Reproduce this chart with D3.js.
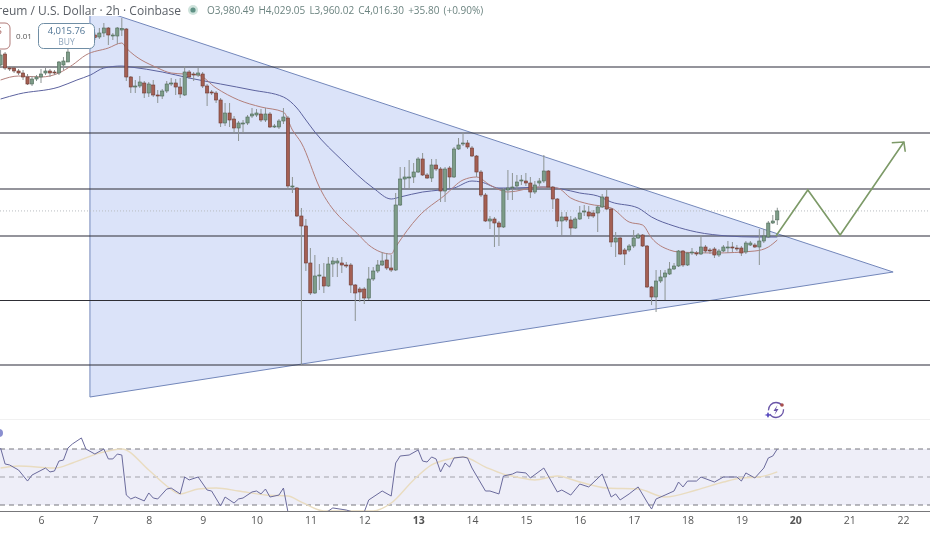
<!DOCTYPE html>
<html>
<head>
<meta charset="utf-8">
<script src="https://cdn.jsdelivr.net/npm/d3@7"></script>
<style>
    html, body { margin: 0; padding: 0; background: #fff; overflow: hidden; }
    svg { display: block; font-family: 'Open Sans', 'Noto Sans', sans-serif; }
</style>
</head>
<body>
<svg></svg>
<script>
const size = {w: 930, h: 533};
const svg = d3.select('svg');
svg.attr('width', size.w).attr('height', size.h);

// bar numbers count 2h candles from the start of the 6th (12 a day)
const firstBar = -9;

// open, high, low, close for every candle
const ohlc = [
    [4600,4660,4588,4640],[4644,4652,4580,4588],[4588,4596,4576,4584],[4588,4596,4568,4576],[4576,4584,4560,4568],
    [4568,4580,4540,4552],[4552,4564,4520,4524],[4524,4556,4516,4544],[4544,4560,4536,4552],[4552,4584,4528,4564],
    [4568,4588,4560,4576],[4576,4584,4552,4568],[4572,4580,4560,4568],[4568,4616,4560,4612],[4600,4632,4580,4616],
    [4612,4668,4612,4652],[4676,4710,4672,4700],[4700,4730,4690,4720],[4720,4750,4705,4740],[4740,4760,4720,4750],
    [4750,4755,4700,4720],[4720,4730,4700,4710],[4712,4748,4704,4728],[4728,4768,4712,4748],[4748,4752,4680,4720],
    [4716,4728,4700,4720],[4716,4752,4684,4748],[4740,4788,4716,4746],[4744,4748,4536,4552],[4552,4556,4488,4512],
    [4512,4540,4488,4516],[4516,4556,4508,4532],[4528,4536,4468,4488],[4488,4532,4472,4524],[4520,4540,4472,4480],
    [4480,4500,4448,4476],[4476,4504,4464,4496],[4496,4536,4488,4524],[4524,4548,4516,4528],[4528,4544,4480,4512],
    [4512,4548,4468,4484],[4480,4596,4476,4572],[4572,4580,4544,4552],[4564,4572,4536,4560],[4560,4588,4552,4568],
    [4564,4572,4508,4516],[4516,4524,4436,4488],[4492,4500,4480,4488],[4488,4496,4448,4460],[4460,4468,4352,4368],
    [4368,4448,4356,4408],[4408,4448,4352,4380],[4384,4396,4328,4348],[4348,4376,4296,4368],[4366,4380,4328,4368],
    [4368,4400,4360,4392],[4396,4428,4388,4404],[4400,4424,4392,4408],[4404,4424,4372,4380],[4380,4428,4372,4404],
    [4404,4412,4348,4352],[4352,4364,4348,4356],[4352,4384,4344,4376],[4376,4428,4364,4392],[4388,4396,4100,4116],
    [4112,4152,4088,4116],[4108,4112,3992,3996],[3996,4028,3400,3956],[3956,3984,3776,3808],[3808,3868,3680,3688],
    [3688,3840,3684,3756],[3756,3804,3700,3760],[3752,3808,3688,3716],[3716,3832,3712,3804],[3804,3832,3752,3816],
    [3808,3828,3752,3816],[3808,3832,3768,3800],[3800,3812,3788,3798],[3800,3808,3688,3720],[3720,3724,3576,3688],
    [3704,3712,3652,3692],[3704,3712,3644,3668],[3668,3792,3660,3744],[3744,3792,3736,3776],[3776,3820,3768,3800],
    [3800,3852,3796,3816],[3820,3848,3780,3788],[3788,3840,3772,3780],[3780,4088,3776,4040],[4040,4192,4036,4144],
    [4144,4192,4108,4152],[4148,4220,4104,4152],[4152,4208,4128,4172],[4172,4232,4168,4224],[4224,4248,4156,4160],
    [4160,4168,4144,4148],[4148,4224,4132,4200],[4200,4224,4176,4184],[4184,4192,4052,4096],[4096,4192,4052,4184],
    [4188,4196,4108,4152],[4152,4272,4148,4264],[4264,4308,4260,4280],[4284,4332,4276,4288],[4288,4300,4264,4272],
    [4268,4276,4232,4236],[4236,4240,4152,4172],[4172,4180,4072,4080],[4080,4088,3972,3976],[3976,3996,3944,3984],
    [3984,3992,3872,3968],[3968,3976,3876,3952],[3952,4108,3948,4100],[4100,4180,4060,4108],[4108,4168,4060,4112],
    [4116,4160,4100,4132],[4136,4160,4120,4140],[4136,4168,4116,4128],[4128,4152,4068,4092],[4092,4136,4084,4120],
    [4128,4148,4116,4136],[4136,4240,4128,4176],[4176,4180,4104,4112],[4112,4116,4024,4064],[4064,4068,3952,3976],
    [3976,4012,3920,3992],[3992,4012,3972,3980],[3980,3996,3920,3948],[3948,3992,3944,3984],[3984,4036,3980,4008],
    [4012,4040,3996,4016],[4012,4036,3984,3996],[4008,4020,3988,3996],[4008,4040,3932,4032],[4032,4084,4028,4072],
    [4072,4100,4020,4024],[4024,4028,3872,3892],[3892,3932,3832,3908],[3908,3912,3840,3844],[3860,3868,3800,3844],
    [3860,3884,3852,3876],[3876,3940,3868,3908],[3908,3928,3904,3920],[3920,3924,3872,3876],[3876,3880,3708,3712],
    [3712,3716,3640,3672],[3672,3780,3612,3736],[3736,3780,3728,3752],[3752,3780,3660,3768],[3764,3812,3760,3784],
    [3784,3808,3780,3796],[3796,3860,3792,3856],[3856,3860,3792,3800],[3800,3852,3796,3848],[3848,3868,3840,3852],
    [3848,3856,3836,3844],[3844,3920,3840,3872],[3872,3880,3848,3856],[3860,3868,3844,3856],[3864,3872,3828,3840],
    [3840,3864,3832,3856],[3856,3880,3852,3872],[3868,3896,3848,3872],[3872,3892,3852,3868],[3868,3880,3856,3864],
    [3868,3876,3836,3848],[3852,3896,3844,3888],[3880,3896,3876,3888],[3880,3888,3868,3872],[3872,3944,3800,3896],
    [3896,3944,3888,3916],[3912,3976,3908,3968],[3968,4000,3964,3976],[3980.49,4029.05,3960.02,4016.30]
];

const levels = [4592, 4328, 4104, 3916, 3658, 3400];
const lastPrice = 4016.30;

// slow (blue) and fast (red) averages as [bar, price]
const slowMa = [[-9,4464],[-5,4484],[4,4512],[8,4540],[11,4560],[14,4588],[18,4596],[20,4592],[27,4572],[33,4548],
    [40,4524],[47,4500],[54,4472],[57,4428],[59,4380],[61,4332],[67,4220],[74,4108],[78,4064],[80,4072],
    [85,4092],[89,4100],[92,4108],[96,4136],[98,4132],[102,4108],[105,4108],[112,4112],[116,4104],[120,4088],
    [124,4076],[127,4052],[133,4028],[136,3992],[141,3956],[146,3932],[153,3916],[159,3912],[164,3912]];
const fastMa = [[-9,4540],[-5,4556],[0,4552],[4,4568],[7,4600],[10,4640],[15,4668],[18,4688],[19,4668],[26,4588],
    [29,4568],[35,4560],[39,4508],[44,4460],[49,4432],[54,4412],[56,4340],[58,4288],[62,4112],[71,3916],
    [73,3880],[78,3844],[79,3872],[84,3992],[90,4080],[94,4140],[97,4152],[100,4120],[104,4092],[111,4112],
    [115,4108],[118,4068],[122,4044],[127,4028],[131,3972],[134,3960],[136,3908],[140,3860],[142,3852],[150,3848],
    [159,3856],[162,3872],[164,3900]];

// the drawn triangle and the projected path, in [bar, price]
const triangle = [[10.9,4834],[189.8,3772],[10.9,3272]];
const projection = [[163.7,3916],[170.8,4100],[178,3920],[192.2,4292]];
const arrowHead = [[189.5,4289],[192.2,4292],[192.5,4253]];

// RSI pane
const rsiLine = [[-9,70.7],[-8,59.3],[-7,58.6],[-5,55],[-3,47.1],[-2,51.4],[1,56.4],[2,53.6],[3,54.3],[4,61.4],
    [5,62.1],[6,70.7],[7,73.6],[9,77.9],[10,70],[12,66.4],[14,70],[15,62.9],[16,62.9],[17,66.4],
    [18,65.7],[19,37.1],[20,34.3],[21,35.7],[23,32.9],[24,38.6],[25,35],[26,34.3],[28,41.4],[29,42.1],
    [31,37.9],[32,50],[33,47.9],[35,50],[37,40.7],[38,40],[40,29.3],[41,35.7],[43,31.4],[44,34.3],
    [45,35],[47,39.3],[48,40],[49,37.9],[50,41.4],[51,35.7],[53,37.1],[54,42.1],[55,25],[57,22],
    [60,21],[63,24.3],[64,25.7],[65,27.9],[68,26.4],[71,23.6],[72,25],[73,33.6],[76,40],[78,36.4],
    [79,60],[80,65],[82,65.7],[84,69.3],[85,61.4],[86,60.7],[87,64.3],[88,62.9],[89,53.6],[90,60],
    [91,57.1],[92,63.6],[94,64.3],[95,63.6],[96,56.4],[99,40],[100,40],[102,37.9],[103,50.7],[105,52.1],
    [106,53.6],[108,52.9],[109,49.3],[112,56.4],[115,39.3],[116,40.7],[118,37.1],[120,45],[122,42.9],[125,52.1],
    [127,35.7],[128,37.9],[129,33.6],[131,37.9],[133,42.9],[135,32.1],[136,27.1],[137,34.3],[139,37.1],[141,40],
    [142,46.4],[143,42.9],[144,47.1],[146,47.1],[147,50],[150,46.4],[152,50],[155,50],[156,47.1],[157,52.9],
    [159,49.3],[161,56.4],[162,63.6],[163,65],[164,70]];
const rsiMa = [[-9,56.4],[-5,57.9],[3,56.4],[7,60],[13,67.1],[18,70],[24,55],[28,43.6],[31,37.9],[35,41.4],
    [39,42.1],[44,40],[50,37.1],[55,36.4],[58,32.1],[63,25.7],[74,25.7],[78,31.4],[83,47.9],[87,58.6],
    [91,62.9],[94,64.3],[99,57.1],[103,52.1],[106,50],[110,47.9],[115,50.7],[120,46.4],[126,42.1],[133,41.4],
    [139,35.7],[146,40.7],[152,46.4],[156,49.3],[160,50],[164,53.6]];
const rsiLevels = [70, 50, 30];
const dayLabels = [6, 7, 8, 9, 10, 11, 12, 13, 14, 15, 16, 17, 18, 19, 20, 21, 22];
const boldDays = [13, 20];

const x = d3.scaleLinear().domain([0, 192]).range([41, 903]);
const y = d3.scaleLinear().domain([4860, 2728]).range([0, 533]);
const yRsi = d3.scaleLinear().domain([70, 30]).range([449, 505]);

const priceLine = d3.line().x(d => x(d[0])).y(d => y(d[1]));
const rsiPath = d3.line().x(d => x(d[0])).y(d => yRsi(d[1]));

const defs = svg.append('defs');
defs.append('filter').attr('id', 'soft')
    .append('feGaussianBlur').attr('stdDeviation', 0.35);
defs.append('clipPath').attr('id', 'rsiClip')
    .append('rect').attr('x', 0).attr('y', 420).attr('width', size.w).attr('height', 91);

const chart = svg.append('g').attr('filter', 'url(#soft)');

// triangle sits under everything
chart.append('path')
    .attr('d', priceLine(triangle) + 'Z')
    .attr('fill', '#dbe3f9')
    .attr('stroke', '#7387ba')
    .attr('stroke-width', 1);

chart.selectAll('.level')
    .data(levels)
    .enter()
    .append('line')
    .classed('level', true)
    .attr('x1', 0).attr('x2', size.w)
    .attr('y1', d => y(d)).attr('y2', d => y(d))
    .attr('stroke', '#2e2e36')
    .attr('stroke-width', 1.1);

chart.append('line')
    .attr('x1', 0).attr('x2', size.w)
    .attr('y1', y(lastPrice)).attr('y2', y(lastPrice))
    .attr('stroke', '#b9bcc0')
    .attr('stroke-dasharray', '1 2');

chart.append('path')
    .attr('d', priceLine.curve(d3.curveMonotoneX)(slowMa))
    .attr('fill', 'none').attr('stroke', '#5d639f').attr('stroke-width', 1);
chart.append('path')
    .attr('d', priceLine(fastMa))
    .attr('fill', 'none').attr('stroke', '#b27f7b').attr('stroke-width', 1);
priceLine.curve(d3.curveLinear);

// candles
const candles = chart.selectAll('.candle')
    .data(ohlc)
    .enter()
    .append('g')
    .classed('candle', true);

candles.append('line')
    .attr('x1', (d, i) => x(firstBar + i))
    .attr('x2', (d, i) => x(firstBar + i))
    .attr('y1', d => y(d[1]))
    .attr('y2', d => y(d[2]))
    .attr('stroke', '#8d9493');

candles.append('rect')
    .attr('x', (d, i) => x(firstBar + i) - 1.6)
    .attr('width', 3.2)
    .attr('y', d => y(Math.max(d[0], d[3])))
    .attr('height', d => Math.max(1, Math.abs(y(d[0]) - y(d[3]))))
    .attr('fill', d => d[3] >= d[0] ? '#7d9c88' : '#a45f52')
    .attr('stroke', d => d[3] >= d[0] ? '#4e6a58' : '#6e3b33')
    .attr('stroke-width', 0.6);

// projected move
chart.append('path')
    .attr('d', priceLine(projection))
    .attr('fill', 'none').attr('stroke', '#7d9a68').attr('stroke-width', 1.6);
chart.append('path')
    .attr('d', priceLine(arrowHead))
    .attr('fill', 'none').attr('stroke', '#7d9a68').attr('stroke-width', 1.6);

// header strip hides the top of the drawing
chart.append('rect')
    .attr('x', 0).attr('y', 0).attr('width', size.w).attr('height', 16)
    .attr('fill', '#fff');

chart.append('text')
    .attr('x', 181).attr('y', 15)
    .attr('text-anchor', 'end')
    .attr('font-size', 12)
    .attr('fill', '#5a5f66')
    .text('Ethereum / U.S. Dollar · 2h · Coinbase');

chart.append('circle').attr('cx', 193).attr('cy', 10).attr('r', 5).attr('fill', '#cfe3dc');
chart.append('circle').attr('cx', 193).attr('cy', 10).attr('r', 2.6).attr('fill', '#5f9285');

chart.append('text')
    .attr('x', 207).attr('y', 14)
    .attr('font-size', 10)
    .attr('word-spacing', 1.5)
    .attr('fill', '#6c8480')
    .text('O3,980.49 H4,029.05 L3,960.02 C4,016.30 +35.80 (+0.90%)');

// sell and buy buttons
chart.append('rect')
    .attr('x', -60).attr('y', 23).attr('width', 70).attr('height', 26).attr('rx', 5)
    .attr('fill', '#fff').attr('stroke', '#b07a78');
chart.append('text')
    .attr('x', 2).attr('y', 34)
    .attr('text-anchor', 'end')
    .attr('font-size', 9.5).attr('fill', '#a5605c')
    .text('4,015.75');
chart.append('text')
    .attr('x', 24).attr('y', 39)
    .attr('text-anchor', 'middle')
    .attr('font-size', 8).attr('fill', '#555')
    .text('0.01');
chart.append('rect')
    .attr('x', 38.5).attr('y', 23.5).attr('width', 56).attr('height', 25).attr('rx', 5)
    .attr('fill', '#fff').attr('stroke', '#6f8ea5');
chart.append('text')
    .attr('x', 66.5).attr('y', 34)
    .attr('text-anchor', 'middle')
    .attr('font-size', 9.5).attr('fill', '#4f7494')
    .text('4,015.76');
chart.append('text')
    .attr('x', 66.5).attr('y', 45)
    .attr('text-anchor', 'middle')
    .attr('font-size', 8.5).attr('fill', '#8fa6bd')
    .text('BUY');

// bolt badge
const badge = chart.append('g').attr('transform', 'translate(776,410)');
badge.append('circle').attr('r', 7.5)
    .attr('fill', 'none').attr('stroke', '#6a55a8').attr('stroke-width', 1.3)
    .attr('stroke-dasharray', '19 4');
badge.append('path').attr('d', 'M1.5,-5 L-2.5,1 L0,1 L-1.5,5 L2.5,-1 L0,-1 Z').attr('fill', '#6a55a8');
badge.append('path').attr('d', 'M-8,2 L-6.8,4.2 L-4.5,5 L-6.8,5.8 L-8,8 L-9.2,5.8 L-11.5,5 L-9.2,4.2 Z').attr('fill', '#5a4ec0');
badge.append('circle').attr('cx', 6).attr('cy', -5).attr('r', 1.8).attr('fill', '#a8504e');

// RSI pane
chart.append('line')
    .attr('x1', 0).attr('x2', size.w).attr('y1', 419.5).attr('y2', 419.5)
    .attr('stroke', '#f1f1f1');
chart.append('circle').attr('cx', -1).attr('cy', 433).attr('r', 4).attr('fill', '#8a8fd0');

chart.append('rect')
    .attr('x', 0).attr('width', size.w)
    .attr('y', yRsi(70)).attr('height', yRsi(30) - yRsi(70))
    .attr('fill', '#eeeef8');

chart.selectAll('.rsi-level')
    .data(rsiLevels)
    .enter()
    .append('line')
    .classed('rsi-level', true)
    .attr('x1', 0).attr('x2', size.w)
    .attr('y1', d => yRsi(d)).attr('y2', d => yRsi(d))
    .attr('stroke', d => d === 50 ? '#a2a2aa' : '#77777f')
    .attr('stroke-dasharray', '5 4');

const rsiGroup = chart.append('g').attr('clip-path', 'url(#rsiClip)');
rsiGroup.append('path')
    .attr('d', d3.line().x(d => x(d[0])).y(d => yRsi(d[1])).curve(d3.curveMonotoneX)(rsiMa))
    .attr('fill', 'none').attr('stroke', '#e9dcc0').attr('stroke-width', 1.4);
rsiGroup.append('path')
    .attr('d', rsiPath(rsiLine))
    .attr('fill', 'none').attr('stroke', '#6a6a9c').attr('stroke-width', 1);

chart.append('line')
    .attr('x1', 0).attr('x2', size.w).attr('y1', 511.5).attr('y2', 511.5)
    .attr('stroke', '#77777a').attr('stroke-width', 1.1);

// day labels
const axis = d3.axisBottom(x)
    .tickValues(dayLabels.map(d => (d - 6) * 12))
    .tickSize(0)
    .tickPadding(5)
    .tickFormat(b => 6 + b / 12);

const axisG = chart.append('g')
    .attr('transform', 'translate(0,512)')
    .call(axis);
axisG.select('.domain').remove();
axisG.selectAll('text')
    .attr('font-family', "'Open Sans', sans-serif")
    .attr('font-size', 10.5)
    .attr('fill', '#555')
    .attr('font-weight', b => boldDays.includes(6 + b / 12) ? 700 : 400);
</script>
</body>
</html>
